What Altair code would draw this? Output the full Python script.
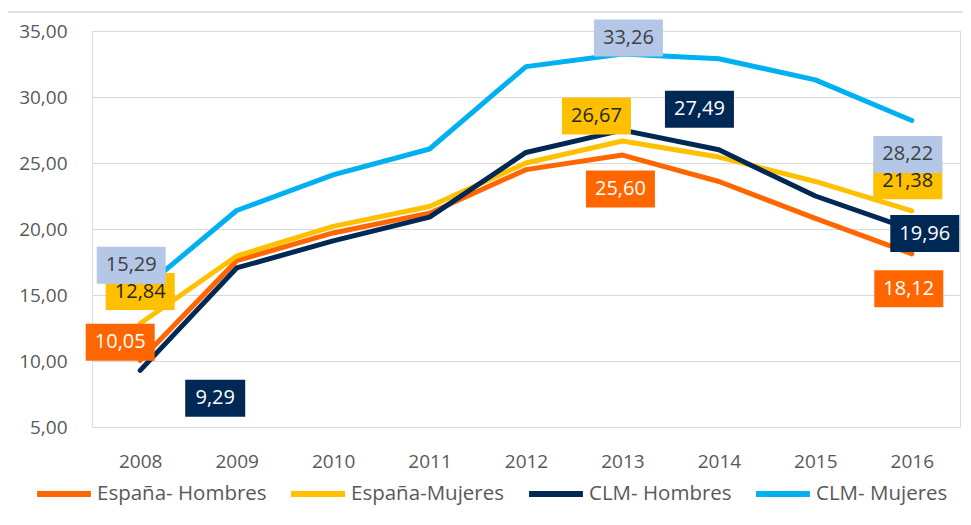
import altair as alt
import pandas as pd

years = [2008, 2009, 2010, 2011, 2012, 2013, 2014, 2015, 2016]
series_names = ["España- Hombres", "España-Mujeres", "CLM- Hombres", "CLM- Mujeres"]
esp_h = [10.05, 17.6, 19.7, 21.2, 24.5, 25.60, 23.6, 20.8, 18.12]
esp_m = [12.84, 17.95, 20.2, 21.7, 25.0, 26.67, 25.45, 23.6, 21.38]
clm_h = [9.29, 17.05, 19.1, 20.9, 25.8, 27.49, 26.0, 22.5, 19.96]
clm_m = [15.29, 21.4, 24.1, 26.06, 32.3, 33.26, 32.9, 31.3, 28.22]
values = [esp_h, esp_m, clm_h, clm_m]

line_colors = ["#FF6600", "#FFC000", "#002855", "#00B0F0"]
box_colors = ["#FF6600", "#FFC000", "#002855", "#B4C7E7"]
text_colors = ["#FFFFFF", "#262626", "#FFFFFF", "#404040"]

label_years = [2008, 2013, 2016]
# label offsets (dx, dy) in pixels per series, for 2008, 2013, 2016
label_offsets = [
    [(-20, -18), (-2, 34), (-3, 35)],
    [(0, -32), (-26, -25), (-4, -30)],
    [(75, 28), (77, -21), (13, 4)],
    [(-9, -26), (6, -16), (-4, 34)],
]

FONT = "Open Sans"
GRAY = "#595959"

rows = []
for name, vals in zip(series_names, values):
    for y, v in zip(years, vals):
        rows.append({"year": str(y), "value": v, "serie": name})
df = pd.DataFrame(rows)

x_enc = alt.X("year:O", scale=alt.Scale(type="point", padding=0.5),
              axis=alt.Axis(title=None, labelAngle=0, labelFontSize=19, labelColor=GRAY,
                            labelFont=FONT, domain=False, ticks=False, grid=False,
                            labelPadding=25))
y_enc = alt.Y("value:Q", scale=alt.Scale(domain=[5, 35], nice=False, zero=False),
              axis=alt.Axis(title=None, values=[5, 10, 15, 20, 25, 30, 35],
                            labelExpr="replace(format(datum.value, '.2f'), '.', ',')",
                            labelFontSize=19, labelColor=GRAY, labelFont=FONT,
                            domain=False, ticks=False, gridColor="#D9D9D9", gridWidth=1.2,
                            labelPadding=25))

lines = alt.Chart(df).mark_line(strokeWidth=5, strokeCap="round", strokeJoin="round").encode(
    x=x_enc, y=y_enc,
    color=alt.Color("serie:N", sort=series_names,
                    scale=alt.Scale(domain=series_names, range=line_colors),
                    legend=alt.Legend(title=None, orient="none", direction="horizontal",
                                      legendX=-58, legendY=433, symbolType="stroke",
                                      symbolSize=2900, symbolStrokeWidth=6,
                                      labelFontSize=20.5, labelFont=FONT, labelColor=GRAY,
                                      labelLimit=400, labelOffset=3, columnPadding=12)),
)

layers = [lines]
for si, (name, vals) in enumerate(zip(series_names, values)):
    for li, ly in enumerate(label_years):
        v = vals[years.index(ly)]
        txt = f"{v:.2f}".replace(".", ",")
        dx, dy = label_offsets[si][li]
        d = pd.DataFrame([{"year": str(ly), "value": v, "txt": txt}])
        w = 24 + 9 * len(txt)
        box = alt.Chart(d).mark_rect(width=w, height=37, xOffset=dx, yOffset=dy,
                                     color=box_colors[si]).encode(
            x=alt.X("year:O"), y=alt.Y("value:Q"))
        t = alt.Chart(d).mark_text(dx=dx, dy=dy, fontSize=20, font=FONT,
                                   color=text_colors[si], baseline="middle",
                                   align="center").encode(
            x=alt.X("year:O"), y=alt.Y("value:Q"), text="txt:N")
        layers += [box, t]

border = alt.Chart(pd.DataFrame({"a": [0]})).mark_rect(
    fill=None, stroke="#D9D9D9", strokeWidth=1.5).encode(
    x=alt.value(-86), x2=alt.value(900), y=alt.value(-19), y2=alt.value(520))
layers.append(border)

chart = alt.layer(*layers).properties(
    width=868, height=396,
    autosize=alt.AutoSizeParams(type="none"),
    padding={"left": 84, "top": 23, "right": 3, "bottom": 90},
).configure_view(stroke=None).configure(background="white")

chart.save("out.html", embed_options={"renderer": "svg", "actions": False})
